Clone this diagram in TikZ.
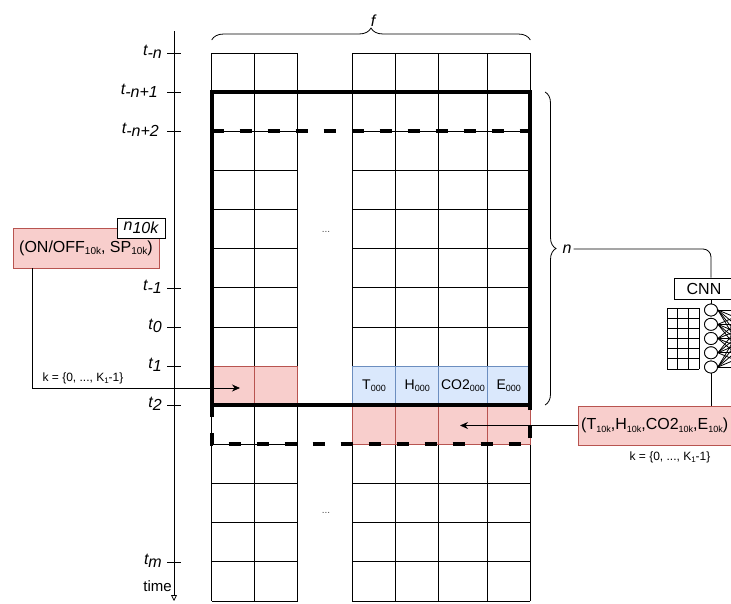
\documentclass[tikz,border=0pt]{standalone}
\usepackage{fontspec}
\setmainfont{Liberation Sans}
\usetikzlibrary{arrows.meta,decorations.pathreplacing,shapes.geometric}
\definecolor{rfill}{HTML}{F8CECC}
\definecolor{rline}{HTML}{B85450}
\definecolor{bfill}{HTML}{DAE8FC}
\definecolor{bline}{HTML}{6C8EBF}
\newcommand{\fs}[1]{\fontsize{#1}{#1}\selectfont}
\newcommand{\smallsub}[1]{\raisebox{-2.5pt}{\fs{9}#1}}
\newcommand{\midsub}[1]{\raisebox{-2.8pt}{\fs{10}#1}}
\newcommand{\lowsub}[1]{\raisebox{-3pt}{#1}}
\begin{document}
\begin{tikzpicture}[x=1pt,y=-1pt,
  gridline/.style={line width=0.8pt},
  boldbox/.style={line width=4pt},
  bolddash/.style={line width=4pt, dash pattern=on 12pt off 16pt},
  redcell/.style={draw=rline, fill=rfill, line width=0.8pt},
  bluecell/.style={draw=bline, fill=bfill, line width=0.8pt, inner sep=0pt, minimum height=39.2pt, font=\fs{14}},
  tlabel/.style={anchor=base east, inner sep=0pt, font=\fs{16}\itshape},
  tick/.style={line width=0.8pt},
  brace/.style={decorate, line width=0.8pt},
  conn/.style={line width=0.8pt},
  arr/.style={line width=0.8pt, -{Stealth[length=8pt,width=7pt]}},
  redbox/.style={draw=rline, fill=rfill, line width=0.8pt, inner sep=0pt},
  smalltxt/.style={font=\fs{12}, inner sep=0pt},
  dots/.style={font=\fs{10}, text=black!70, inner sep=0pt},
  neuron/.style={ellipse, draw, line width=0.8pt, fill=white, minimum width=13pt, minimum height=12pt, inner sep=0pt},
]
\useasboundingbox (0,0) rectangle (731,603);
\clip (0,0) rectangle (731,603);

% grid
\foreach \i in {0,...,14}{
  \pgfmathsetmacro\yy{53+39.14*\i}
  \draw[gridline] (211.7,\yy) -- (297.7,\yy);
  \draw[gridline] (352.3,\yy) -- (530.3,\yy);
}
\foreach \xx in {211.7,254.3,297.7,352.3,395.7,438.7,487.3,530.3}
  \draw[gridline] (\xx,53) -- (\xx,601);

\node[dots] (dotsA) at (326,232) {...};
\node[dots] (dotsB) at (326,513) {...};

% coloured cells
\filldraw[redcell] (211.7,366.1) rectangle (254.3,405.3);
\filldraw[redcell] (254.3,366.1) rectangle (297.7,405.3);
\filldraw[redcell] (352.3,405.3) rectangle (395.7,444.4);
\filldraw[redcell] (395.7,405.3) rectangle (438.7,444.4);
\filldraw[redcell] (438.7,405.3) rectangle (487.3,444.4);
\filldraw[redcell] (487.3,405.3) rectangle (530.3,444.4);

\node[bluecell, minimum width=43.4pt] (cT) at (374.0,385.7) {T\smallsub{000}};
\node[bluecell, minimum width=43.0pt] (cH) at (417.2,385.7) {H\smallsub{000}};
\node[bluecell, minimum width=48.6pt] (cC) at (463.0,385.7) {CO2\smallsub{000}};
\node[bluecell, minimum width=43.0pt] (cE) at (508.8,385.7) {E\smallsub{000}};

% windows
\draw[boldbox] (211.7,92.1) rectangle (530.3,405.3);
\draw[bolddash] (211.7,131.3) -- (530.3,131.3);
\draw[bolddash] (211.7,405.3) -- (211.7,444.4) -- (530.3,444.4) -- (530.3,405.3);

% time axis
\draw[conn, -{Triangle[open,length=6pt,width=6pt]}] (174,31) -- (174,601);
\foreach \yy in {53,92.1,131.3,287.9,327,366.1,405.3,561.9}
  \draw[tick] (167,\yy) -- (181,\yy);
\node[tlabel] (tn)  at (162,55.5)  {t\lowsub{-n}};
\node[tlabel] (tn1) at (158,94.6)  {t\lowsub{-n+1}};
\node[tlabel] (tn2) at (159,133.8) {t\lowsub{-n+2}};
\node[tlabel] (tm1) at (162,290.4) {t\lowsub{-1}};
\node[tlabel] (t0)  at (162,329.5) {t\lowsub{0}};
\node[tlabel] (t1)  at (162,368.6) {t\lowsub{1}};
\node[tlabel] (t2)  at (162,407.8) {t\lowsub{2}};
\node[tlabel] (tmm) at (162,564.4) {t\lowsub{m}};
\node[anchor=base east, inner sep=0pt, font=\fs{15}] (time) at (172,591) {time};

% braces
\draw[brace, decoration={brace, amplitude=12pt}] (211.7,40) -- (530.3,40);
\node[font=\fs{16}\itshape, inner sep=0pt] (flab) at (373,21) {f};
\draw[brace, decoration={brace, amplitude=11pt}] (545,92) -- (545,405);
\node[font=\fs{16}\itshape, inner sep=2pt] (nlab) at (567,249) {n};

% CNN
\node[draw, line width=0.8pt, minimum width=60pt, minimum height=21pt, inner sep=0pt, font=\fs{16}] (cnn) at (704,288.5) {CNN};
\draw[conn, rounded corners=8pt] (nlab.east) -| ([xshift=7pt]cnn.north);
\foreach \i in {0,...,3}
  \draw[conn] ({667+32/3*\i},308) -- ({667+32/3*\i},369);
\foreach \j in {0,...,6}
  \draw[conn] (667,{308+61/6*\j}) -- (699,{308+61/6*\j});
\foreach \yy [count=\k] in {310,324.3,338.5,352.8,367}
  \coordinate (d\k) at (752,\yy);
\foreach \yy [count=\k] in {310,324.3,338.5,352.8,367}
  \node[neuron] (c\k) at (711,\yy) {};
\foreach \a in {1,...,5}
  \foreach \b in {1,...,5}
    \draw[conn] (c\a.east) -- (d\b);
\foreach \yy [count=\k] in {310,324.3,338.5,352.8,367}
  \node[neuron] (c\k) at (711,\yy) {};
\draw[conn] (c1.north |- cnn.south) -- (c1.north);

% left input box
\node[redbox, minimum width=146pt, minimum height=40pt, font=\fs{16}] (lbox) at (86,248) {(ON/OFF\midsub{10k}, SP\midsub{10k})};
\node[draw, fill=white, line width=0.8pt, minimum width=48pt, minimum height=20pt, inner sep=0pt, font=\fs{16}\itshape] (nk) at (141,228) {n\lowsub{10k}};
\coordinate (lend) at (240,388);
\draw[arr] ([xshift=20pt]lbox.south west) |- (lend);
\node[smalltxt] (kl) at (83,378) {k = \{0, ..., K\raisebox{-2pt}{\fs{8}1}-1\}};

% right input box (extends past the picture edge)
\node[redbox, minimum width=180pt, minimum height=39pt, anchor=west] (rbox) at (578,425.5) {};
\node[anchor=west, inner sep=0pt, font=\fs{16}] (rtext) at (581,425.5) {(T\smallsub{10k},H\smallsub{10k},CO2\smallsub{10k},E\smallsub{10k})};
\draw[conn] (c5.south) -- (c5.south |- rbox.north);
\coordinate (rend) at (460,425.5);
\draw[arr] (rbox.west) -- (rend);
\node[smalltxt] (kr) at (670,457) {k = \{0, ..., K\raisebox{-2pt}{\fs{8}1}-1\}};
\end{tikzpicture}
\end{document}
